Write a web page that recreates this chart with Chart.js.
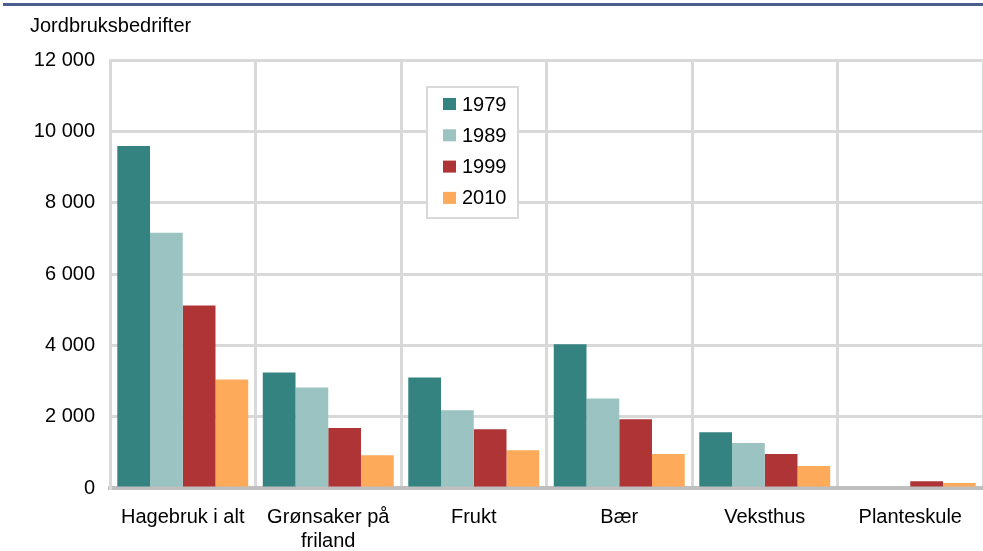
<!DOCTYPE html>
<html>
<head>
<meta charset="utf-8">
<script src="https://cdn.jsdelivr.net/npm/chart.js@4/dist/chart.umd.min.js"></script>
<style>
  html, body { margin: 0; padding: 0; background: #fff; }
  #wrap { width: 983px; height: 551px; position: relative; }
</style>
</head>
<body>
<div id="wrap"><canvas id="hageChart" width="983" height="551"></canvas></div>
<script>
"use strict";
var categories = ["Hagebruk i alt", ["Grønsaker på", "friland"], "Frukt", "Bær", "Veksthus", "Planteskule"];
var years = ["1979", "1989", "1999", "2010"];
var v1979 = [9590, 3240, 3100, 4030, 1560, 0];
var v1989 = [7160, 2820, 2180, 2510, 1260, 0];
var v1999 = [5120, 1680, 1650, 1930, 950, 190];
var v2010 = [3040, 920, 1060, 950, 615, 140];
var yTicks = [0, 2000, 4000, 6000, 8000, 10000, 12000];
var colors = ["#358381", "#9ac3c1", "#ae3436", "#fdaa5a"];

var font = "Liberation Sans, Arial, sans-serif";

function fmt(n) {
    return String(n).replace(/\B(?=(\d{3})+(?!\d))/g, " ");
}

// top rule, axis caption and the boxed legend
var decorations = {
    id: "decorations",
    beforeDraw: function (chart) {
        var ctx = chart.ctx;
        ctx.save();
        ctx.fillStyle = "#fff";
        ctx.fillRect(0, 0, chart.width, chart.height);
        ctx.restore();
    },
    afterDraw: function (chart) {
        var ctx = chart.ctx;
        ctx.save();
        ctx.fillStyle = "#4a5f8c";
        ctx.fillRect(3, 3, chart.width - 3, 3);
        ctx.fillStyle = "#000";
        ctx.font = "20px " + font;
        ctx.textAlign = "left";
        ctx.textBaseline = "middle";
        ctx.fillText("Jordbruksbedrifter", 30, 26);

        // legend
        var lx = 427, ly = 87, lw = 91, lh = 131;
        ctx.fillStyle = "#fff";
        ctx.fillRect(lx, ly, lw, lh);
        ctx.strokeStyle = "#d9d9d9";
        ctx.lineWidth = 2;
        ctx.strokeRect(lx, ly, lw, lh);
        ctx.font = "20px " + font;
        chart.data.datasets.forEach(function (ds, i) {
            var cy = 104 + i * 31.3;
            ctx.fillStyle = ds.backgroundColor;
            ctx.fillRect(443, cy - 6, 13, 12);
            ctx.fillStyle = "#000";
            ctx.fillText(ds.label, 462, cy + 1);
        });
        ctx.restore();
    }
};

var ctx = document.getElementById("hageChart");
var hageChart = new Chart(ctx, {
    type: "bar",
    data: {
        labels: categories,
        datasets: [
            { label: years[0], data: v1979, backgroundColor: colors[0] },
            { label: years[1], data: v1989, backgroundColor: colors[1] },
            { label: years[2], data: v1999, backgroundColor: colors[2] },
            { label: years[3], data: v2010, backgroundColor: colors[3] }
        ]
    },
    options: {
        responsive: false,
        animation: false,
        devicePixelRatio: 1,
        layout: { padding: { top: 60, left: 0, right: 0, bottom: 0 } },
        datasets: { bar: { categoryPercentage: 0.9, barPercentage: 1.0 } },
        plugins: {
            legend: { display: false },
            tooltip: { enabled: false }
        },
        scales: {
            x: {
                grid: { color: "#d9d9d9", lineWidth: 3, drawTicks: false, offset: true },
                border: { color: "#bfbfbf", width: 4 },
                ticks: { color: "#000", font: { family: font, size: 20, lineHeight: 1.2 }, padding: 17, maxRotation: 0, autoSkip: false },
                afterFit: function (scale) { scale.height = 63; }
            },
            y: {
                min: 0,
                max: 12000,
                afterBuildTicks: function (scale) {
                    scale.ticks = yTicks.map(function (v) { return { value: v }; });
                },
                grid: { color: "#d9d9d9", lineWidth: 3, drawTicks: false },
                border: { color: "#d9d9d9", width: 3 },
                ticks: {
                    color: "#000",
                    font: { family: font, size: 20 },
                    padding: 15,
                    callback: function (v) { return fmt(v); }
                },
                afterFit: function (scale) { scale.width = 110; }
            }
        }
    },
    plugins: [decorations]
});
</script>
</body>
</html>
